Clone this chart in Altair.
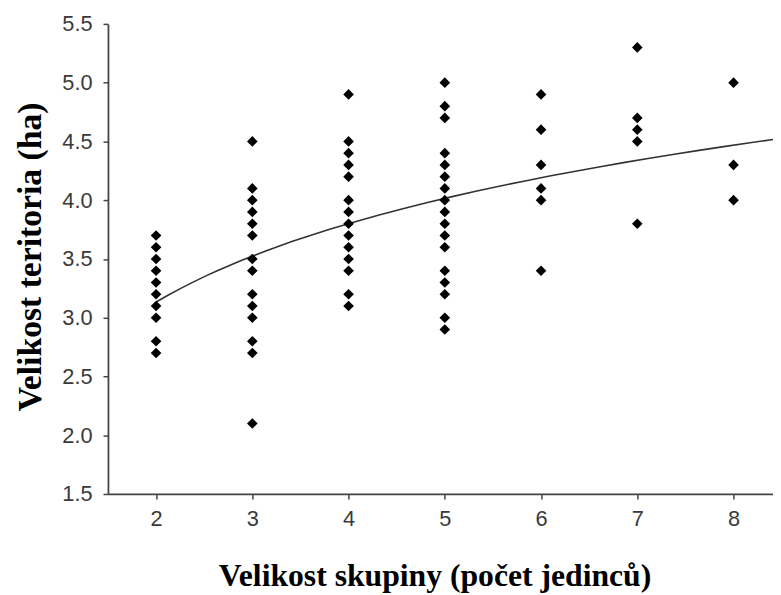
import altair as alt
import pandas as pd

# group size (x) and territory size (y) values
g2 = [3.7, 3.6, 3.5, 3.4, 3.3, 3.2, 3.1, 3.0, 2.8, 2.7]
g3 = [4.5, 4.1, 4.0, 3.9, 3.8, 3.7, 3.5, 3.4, 3.2, 3.1, 3.0, 2.8, 2.7, 2.1]
g4 = [4.9, 4.5, 4.4, 4.3, 4.2, 4.0, 3.9, 3.8, 3.7, 3.6, 3.5, 3.4, 3.2, 3.1]
g5 = [5.0, 4.8, 4.7, 4.4, 4.3, 4.2, 4.1, 4.0, 3.9, 3.8, 3.7, 3.6, 3.4, 3.3, 3.2, 3.0, 2.9]
g6 = [4.9, 4.6, 4.3, 4.1, 4.0, 3.4]
g7 = [5.3, 4.7, 4.6, 4.5, 3.8]
g8 = [5.0, 4.3, 4.0]

groups = {2: g2, 3: g3, 4: g4, 5: g5, 6: g6, 7: g7, 8: g8}
x_ticks = [2, 3, 4, 5, 6, 7, 8]
y_ticks = [1.5, 1.75, 2.0, 2.25, 2.5, 2.75, 3.0, 3.25, 3.5, 3.75, 4.0,
           4.25, 4.5, 4.75, 5.0, 5.25, 5.5]

rows = [{"x": k, "y": v} for k, vals in groups.items() for v in vals]
df = pd.DataFrame(rows)

x_title = "Velikost skupiny (počet jedinců)"
y_title = "Velikost teritoria (ha)"

xscale = alt.Scale(domain=[1.5, 8.41], nice=False, zero=False)
yscale = alt.Scale(domain=[1.5, 5.5], nice=False, zero=False)

xaxis = alt.Axis(
    values=x_ticks, title=x_title, grid=False, format="d",
    labelFont="Liberation Sans", labelFontSize=22, labelColor="#3a3a3a",
    labelPadding=10, tickSize=5, tickColor="#444444", tickWidth=1.5,
    domainColor="#444444", domainWidth=1.8,
    titleFont="Liberation Serif", titleFontSize=32, titleFontWeight="bold",
    titleColor="#000000", titleBaseline="alphabetic", titleX=330, titleY=92,
)
yaxis = alt.Axis(
    values=y_ticks, title=y_title, grid=False,
    labelExpr="datum.value % 0.5 === 0 ? format(datum.value, '.1f') : ''",
    labelFont="Liberation Sans", labelFontSize=22, labelColor="#3a3a3a",
    labelPadding=11,
    tickSize={"condition": {"test": "datum.value % 0.5 === 0", "value": 5}, "value": 3},
    tickColor="#444444", tickWidth=1.5,
    domainColor="#444444", domainWidth=1.8,
    titleFont="Liberation Serif", titleFontSize=34, titleFontWeight="bold",
    titleColor="#000000", titleBaseline="alphabetic", titleAngle=-90,
    titleX=-68, titleY=235, titleAlign="center",
)

base = alt.Chart(df)

points = base.mark_point(shape="diamond", filled=True, size=115, color="#000000", opacity=1).encode(
    x=alt.X("x:Q", scale=xscale, axis=xaxis),
    y=alt.Y("y:Q", scale=yscale, axis=yaxis),
)

curve = base.transform_regression(
    "x", "y", method="log", extent=[2, 8.41]
).mark_line(color="#333333", strokeWidth=1.6, clip=True).encode(
    x=alt.X("x:Q", scale=xscale),
    y=alt.Y("y:Q", scale=yscale),
)

chart = alt.layer(curve, points).properties(
    width=672, height=475,
    background="white",
    autosize=alt.AutoSizeParams(type="none"),
    padding={"left": 101, "top": 13, "right": 0, "bottom": 98},
).configure_view(stroke=None)

chart.save("out.html", embed_options={"renderer": "svg", "actions": False})
